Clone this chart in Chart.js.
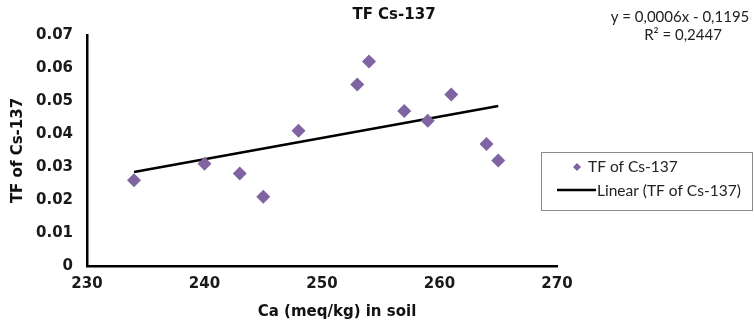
<!DOCTYPE html>
<html>
<head>
<meta charset="utf-8">
<script src="https://cdn.jsdelivr.net/npm/chart.js@4.4.1/dist/chart.umd.min.js"></script>
<style>
    html, body { margin: 0; padding: 0; background: #fff; }
    #wrap { width: 754px; height: 326px; }
</style>
</head>
<body>
<div id="wrap"><canvas id="myChart" width="754" height="326"></canvas></div>
<script>
// values
var CaValues = [234, 240, 243, 245, 248, 253, 254, 257, 259, 261, 264, 265];
var TfValues = [0.026, 0.031, 0.028, 0.021, 0.041, 0.055, 0.062, 0.047, 0.044, 0.052, 0.037, 0.032];
var TrendX = [234, 265];
var TrendY = [0.0285, 0.0485];

var ChartTitle = "TF Cs-137";
var XTitle = "Ca (meq/kg) in soil";
var YTitle = "TF of Cs-137";
var SeriesName = "TF of Cs-137";
var TrendName = "Linear (TF of Cs-137)";
var EquationLines = ["y = 0,0006x - 0,1195", "R² = 0,2447"];

var pointColor = '#8064a2';
var boldFont = '"DejaVu Sans", Verdana, sans-serif';
var plainFont = 'Lato, "Liberation Sans", sans-serif';

function toPoints(xs, ys) {
    var pts = [];
    for (var i = 0; i < xs.length; i++) {
        pts.push({ x: xs[i], y: ys[i] });
    }
    return pts;
}

// title, x title, trendline equation and legend box
const extraText = {
    id: 'extraText',
    afterDraw(chart) {
        var c = chart.ctx;
        c.save();
        c.fillStyle = '#111';
        c.textAlign = 'center';
        c.textBaseline = 'middle';
        c.font = 'bold 15px ' + boldFont;
        c.fillText(ChartTitle, 394, 15);
        c.fillText(XTitle, 337, 312);

        c.font = '15px ' + plainFont;
        c.fillStyle = '#222';
        c.fillText(EquationLines[0], 680, 17);
        c.fillText(EquationLines[1], 683, 35);

        // legend
        c.strokeStyle = '#8c8c8c';
        c.lineWidth = 1;
        c.strokeRect(541.5, 152.5, 211, 58);

        c.fillStyle = pointColor;
        c.beginPath();
        c.moveTo(577, 163);
        c.lineTo(581, 167);
        c.lineTo(577, 171);
        c.lineTo(573, 167);
        c.closePath();
        c.fill();

        c.strokeStyle = '#000';
        c.lineWidth = 2.5;
        c.beginPath();
        c.moveTo(557, 190);
        c.lineTo(596, 190);
        c.stroke();

        c.font = '15.5px ' + plainFont;
        c.fillStyle = '#222';
        c.textAlign = 'left';
        c.fillText(SeriesName, 588, 167);
        c.fillText(TrendName, 597, 191);
        c.restore();
    }
};

const ctx = document.getElementById('myChart');
const myChart = new Chart(ctx, {
    type: 'scatter',
    data: {
        datasets: [{
            label: SeriesName,
            data: toPoints(CaValues, TfValues),
            pointStyle: 'rectRot',
            pointRadius: 7,
            pointHoverRadius: 7,
            backgroundColor: pointColor,
            borderWidth: 0
        }, {
            type: 'line',
            label: TrendName,
            data: toPoints(TrendX, TrendY),
            showLine: true,
            pointRadius: 0,
            borderColor: '#000',
            borderWidth: 2.5,
            fill: false
        }]
    },
    options: {
        responsive: false,
        animation: false,
        devicePixelRatio: 1,
        layout: {
            padding: { top: 35, right: 197, left: 0, bottom: 0 }
        },
        plugins: {
            legend: { display: false },
            title: { display: false },
            tooltip: { enabled: false }
        },
        scales: {
            x: {
                type: 'linear',
                min: 230,
                max: 270,
                grid: { display: false, drawTicks: false },
                border: { display: true, color: '#000', width: 2.5 },
                ticks: {
                    stepSize: 10,
                    padding: 9,
                    color: '#1a1a1a',
                    font: { family: boldFont, size: 15, weight: 'bold' }
                },
                afterFit: function (scale) { scale.height = 60; }
            },
            y: {
                min: 0,
                max: 0.07,
                grid: { display: false, drawTicks: false },
                border: { display: true, color: '#000', width: 2.5 },
                ticks: {
                    stepSize: 0.01,
                    padding: 14,
                    color: '#1a1a1a',
                    font: { family: boldFont, size: 15, weight: 'bold' },
                    callback: function (v) { return v === 0 ? '0' : v.toFixed(2); }
                },
                title: {
                    display: true,
                    text: YTitle,
                    color: '#111',
                    padding: { top: 9, bottom: 8 },
                    font: { family: boldFont, size: 15, weight: 'bold' }
                },
                afterFit: function (scale) { scale.width = 87; }
            }
        }
    },
    plugins: [extraText]
});
</script>
</body>
</html>
